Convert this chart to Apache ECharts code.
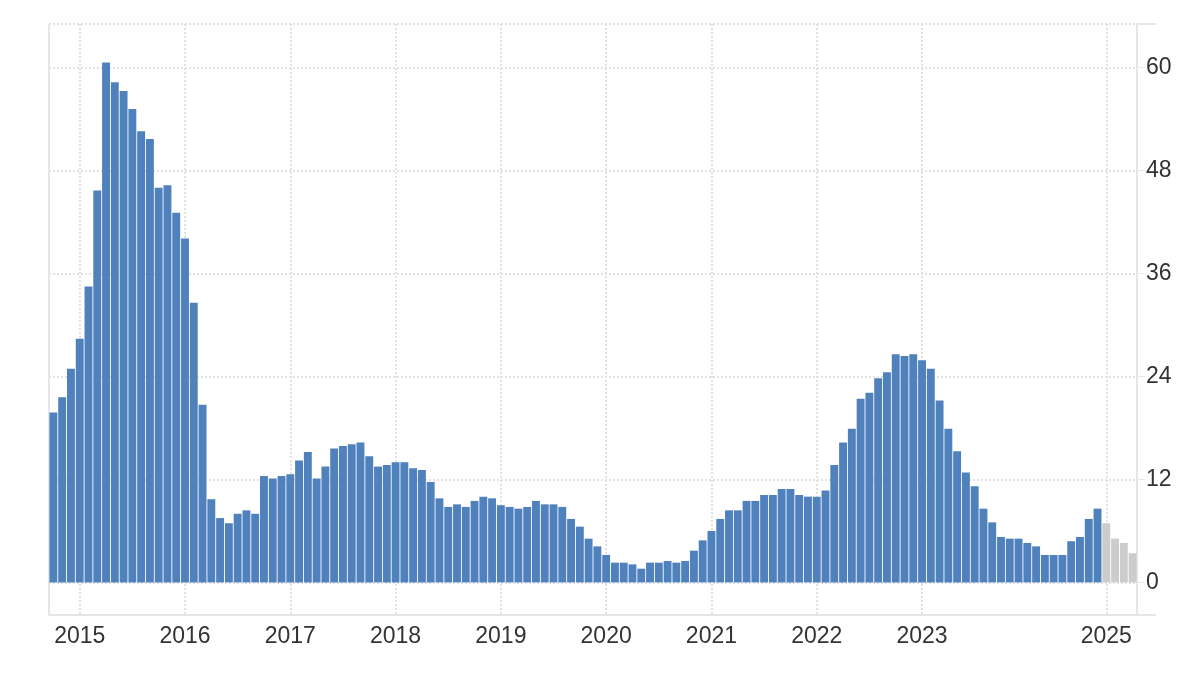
<!DOCTYPE html>
<html>
<head>
<meta charset="utf-8">
<script src="https://cdn.jsdelivr.net/npm/echarts@6/dist/echarts.min.js"></script>
<style>
html,body{margin:0;padding:0;background:#ffffff;}
#chart{width:1200px;height:698px;}
</style>
</head>
<body>
<div id="chart"></div>
<script>
// ---- data ----
const monthNames = ['Jan','Feb','Mar','Apr','May','Jun','Jul','Aug','Sep','Oct','Nov','Dec'];
const firstYear = 2014;
const firstMonthIndex = 9; // October
const actual2014 = [19.8, 21.6, 24.9];
const actual2015 = [28.4, 34.5, 45.7, 60.6, 58.3, 57.3, 55.2, 52.6, 51.7, 46.0, 46.3, 43.1];
const actual2016 = [40.1, 32.6, 20.7, 9.7, 7.5, 6.9, 8.0, 8.4, 8.0, 12.4, 12.1, 12.4];
const actual2017 = [12.6, 14.2, 15.2, 12.1, 13.5, 15.6, 15.9, 16.1, 16.3, 14.7, 13.5, 13.7];
const actual2018 = [14.0, 14.0, 13.3, 13.1, 11.7, 9.8, 8.8, 9.1, 8.8, 9.5, 10.0, 9.8];
const actual2019 = [9.0, 8.8, 8.6, 8.8, 9.5, 9.1, 9.1, 8.8, 7.4, 6.5, 5.1, 4.2];
const actual2020 = [3.2, 2.3, 2.3, 2.1, 1.6, 2.3, 2.3, 2.5, 2.3, 2.5, 3.7, 4.9];
const actual2021 = [6.0, 7.4, 8.4, 8.4, 9.5, 9.5, 10.2, 10.2, 10.9, 10.9, 10.2, 10.0];
const actual2022 = [10.0, 10.7, 13.7, 16.3, 17.9, 21.4, 22.1, 23.8, 24.5, 26.6, 26.4, 26.6];
const actual2023 = [25.9, 24.9, 21.2, 17.9, 15.3, 12.8, 11.2, 8.6, 7.0, 5.3, 5.1, 5.1];
const actual2024 = [4.6, 4.2, 3.2, 3.2, 3.2, 4.8, 5.3, 7.4, 8.6];
const forecastValues = [6.9, 5.1, 4.6, 3.4];
const forecastCategories = ['2025 Q1', '2025 Q2', '2025 Q3', '2025 Q4'];
const xTickCategories = ['Jan 2015','Jan 2016','Jan 2017','Jan 2018','Jan 2019','Jan 2020','Jan 2021','Jan 2022','Jan 2023','2025 Q1'];
const xTickLabels = ['2015','2016','2017','2018','2019','2020','2021','2022','2023','2025'];
const yTickValues = [0, 12, 24, 36, 48, 60];

// ---- build series ----
const actualValues = [].concat(actual2014, actual2015, actual2016, actual2017, actual2018,
  actual2019, actual2020, actual2021, actual2022, actual2023, actual2024);
const monthCategories = [];
let yr = firstYear, mo = firstMonthIndex;
for (let i = 0; i < actualValues.length; i++) {
  monthCategories.push(monthNames[mo] + ' ' + yr);
  mo++; if (mo === 12) { mo = 0; yr++; }
}
const categories = monthCategories.concat(forecastCategories);
const actualSeries = actualValues.concat(forecastValues.map(() => null));
const forecastSeries = actualValues.map(() => null).concat(forecastValues);
const tickPositions = xTickCategories.map(c => categories.indexOf(c) + 0.5);

const Y_MIN = -3.8, Y_MAX = 65.1;
const FONT = 'Liberation Sans, Arial, sans-serif';
const gridLine = { color: '#e2e2e2', width: 2, type: [2, 2] };
const frame = '#e6e6e6';

const chart = echarts.init(document.getElementById('chart'), null, { renderer: 'canvas' });
chart.setOption({
  animation: false,
  backgroundColor: '#ffffff',
  grid: { left: 49, right: 63, top: 24, bottom: 83, containLabel: false },
  xAxis: [
    {
      type: 'category', data: categories, boundaryGap: true,
      axisLine: { show: false, onZero: false }, axisTick: { show: false },
      axisLabel: { show: false }, splitLine: { show: false }
    },
    {
      type: 'value', min: 0, max: categories.length, position: 'bottom',
      axisLine: { show: true, onZero: false, lineStyle: { color: frame, width: 2 } },
      axisTick: { show: false, customValues: tickPositions },
      axisLabel: {
        customValues: tickPositions,
        formatter: v => { const k = tickPositions.indexOf(v); return k >= 0 ? xTickLabels[k] : ''; },
        fontSize: 23, color: '#333333', fontFamily: FONT, margin: 10
      },
      splitLine: { show: true, lineStyle: gridLine }
    }
  ],
  yAxis: [
    {
      type: 'value', position: 'right', min: Y_MIN, max: Y_MAX,
      axisLine: { show: true, onZero: false, lineStyle: { color: frame, width: 2 } },
      axisTick: { show: true, customValues: yTickValues, length: 8, lineStyle: { color: frame, width: 1 } },
      axisLabel: { customValues: yTickValues, fontSize: 23, color: '#333333', fontFamily: FONT, margin: 9 },
      splitLine: { show: true, lineStyle: gridLine }
    },
    {
      type: 'value', position: 'right', min: Y_MIN, max: Y_MAX,
      axisLine: { show: false, onZero: false },
      axisTick: { show: true, customValues: [Y_MIN, Y_MAX], length: 19, lineStyle: { color: frame, width: 2 } },
      axisLabel: { show: false },
      splitLine: { show: true, showMinLine: false, lineStyle: gridLine }
    },
    {
      type: 'value', position: 'left', min: Y_MIN, max: Y_MAX,
      axisLine: { show: true, onZero: false, lineStyle: { color: frame, width: 2 } },
      axisTick: { show: false }, axisLabel: { show: false }, splitLine: { show: false }
    }
  ],
  series: [
    {
      name: 'Actual', type: 'bar', xAxisIndex: 0, yAxisIndex: 0, stack: 'v',
      data: actualSeries, barCategoryGap: '10%',
      itemStyle: { color: '#4f81bd' }
    },
    {
      name: 'Forecast', type: 'bar', xAxisIndex: 0, yAxisIndex: 0, stack: 'v',
      data: forecastSeries, barCategoryGap: '10%',
      itemStyle: { color: '#cccccc' }
    }
  ]
});
</script>
</body>
</html>
